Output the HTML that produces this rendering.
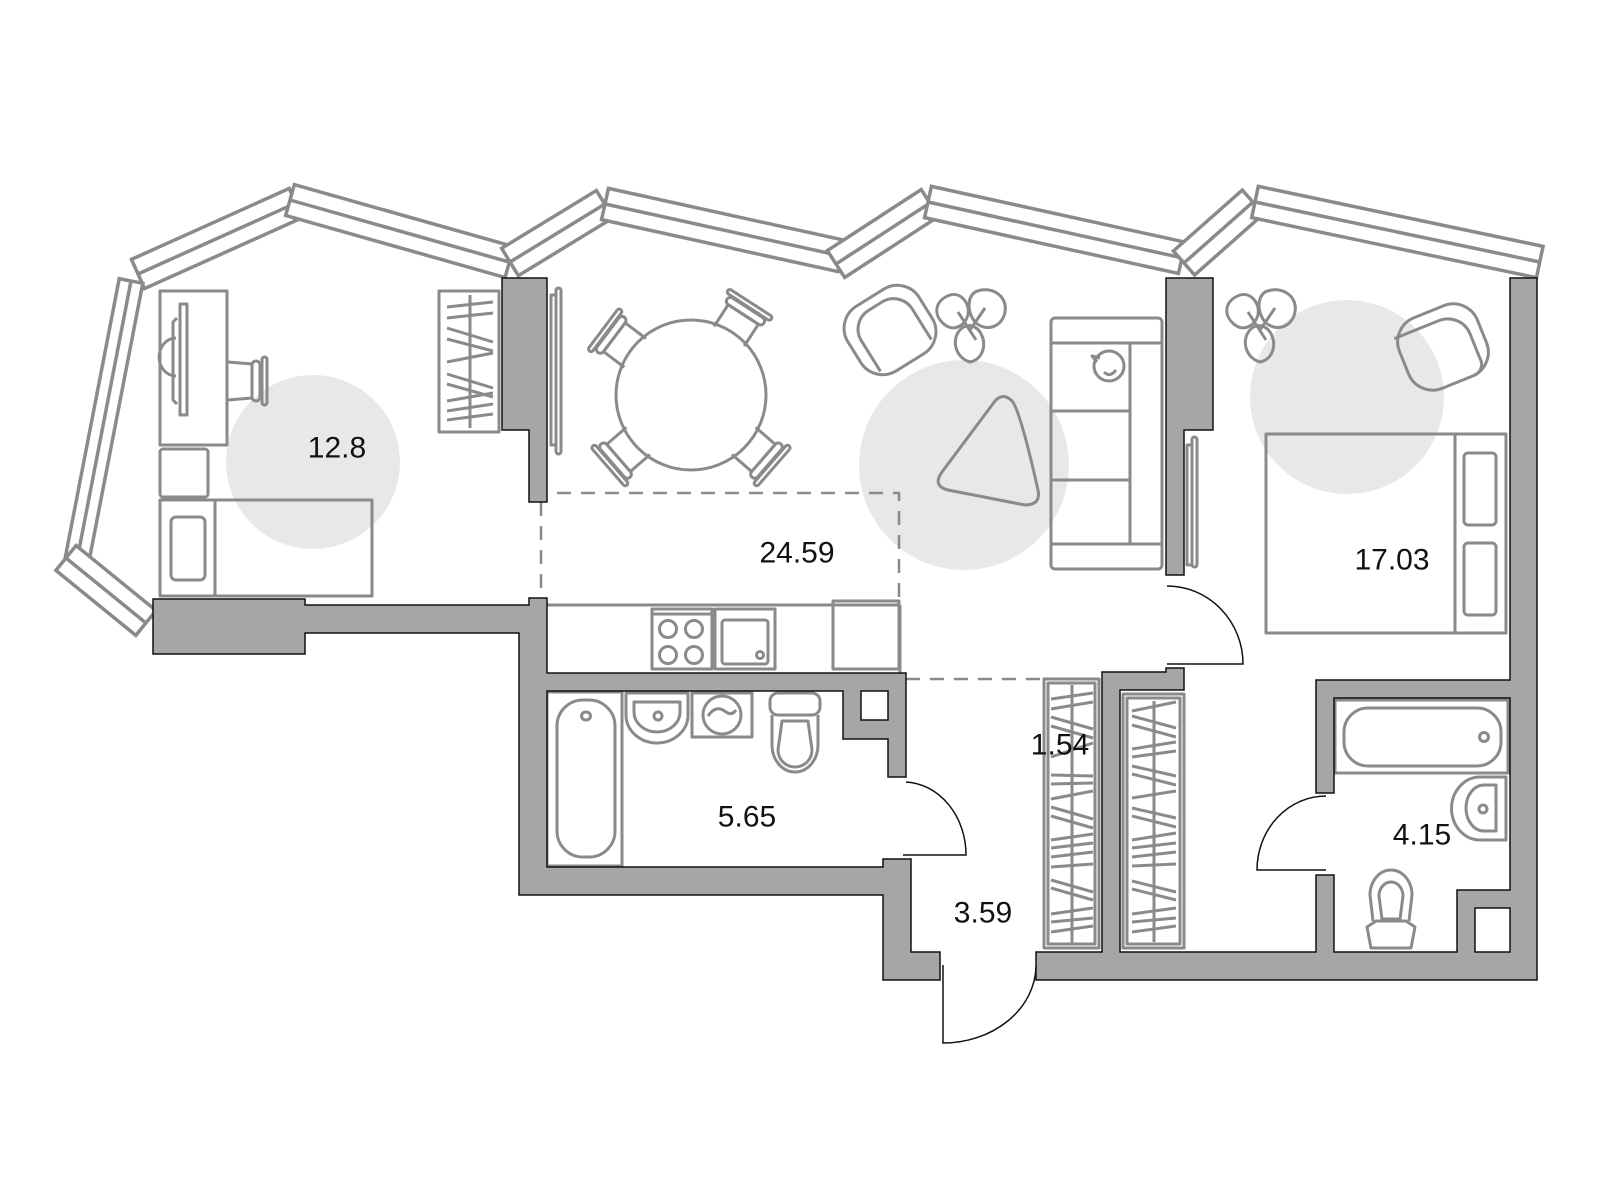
<!DOCTYPE html>
<html><head><meta charset="utf-8"><style>
html,body{margin:0;padding:0;background:#fff;}
svg{display:block;}
text{font-family:"Liberation Sans",sans-serif;font-size:30px;fill:#111;text-anchor:middle;dominant-baseline:central;}
</style></head><body>
<svg width="1600" height="1200" viewBox="0 0 1600 1200" xmlns="http://www.w3.org/2000/svg">
<!-- gray rugs -->
<g fill="#e8e8e8">
<circle cx="313" cy="462" r="87"/>
<circle cx="964" cy="465" r="105"/>
<circle cx="1347" cy="397" r="97"/>
</g>
<!-- windows -->
<g fill="#fff" stroke="#8a8a8a" stroke-width="3.5">
<g transform="translate(138,274) rotate(-24.2)"><rect x="0" y="-16" width="173" height="32"/><line x1="0" y1="0" x2="173" y2="0"/></g>
<g transform="translate(290,200) rotate(15.8)"><rect x="0" y="-16" width="228" height="32"/><line x1="0" y1="0" x2="228" y2="0"/></g>
<g transform="translate(131,281) rotate(100.95)"><rect x="0" y="-12" width="284" height="24"/><line x1="0" y1="0" x2="284" y2="0"/></g>
<g transform="translate(66,558) rotate(39.1)"><rect x="0" y="-16" width="103" height="32"/><line x1="0" y1="0" x2="103" y2="0"/></g>
<g transform="translate(510,262) rotate(-31.4)"><rect x="0" y="-16" width="111" height="32"/><line x1="0" y1="0" x2="111" y2="0"/></g>
<g transform="translate(605,204) rotate(12.4)"><rect x="0" y="-16" width="242" height="32"/><line x1="0" y1="0" x2="242" y2="0"/></g>
<g transform="translate(836,264) rotate(-33)"><rect x="0" y="-16" width="112" height="32"/><line x1="0" y1="0" x2="112" y2="0"/></g>
<g transform="translate(928,202) rotate(12.4)"><rect x="0" y="-16" width="260" height="32"/><line x1="0" y1="0" x2="260" y2="0"/></g>
<g transform="translate(1184,263) rotate(-41.5)"><rect x="0" y="-16" width="92" height="32"/><line x1="0" y1="0" x2="92" y2="0"/></g>
<g transform="translate(1255,202) rotate(11.9)"><rect x="0" y="-16" width="291" height="32"/><line x1="0" y1="0" x2="291" y2="0"/></g>
</g>
<!-- dashed zone lines -->
<g stroke="#8a8a8a" stroke-width="2.5" fill="none" stroke-dasharray="14,10">
<path d="M557,493 L899,493 L899,600"/>
<path d="M541,502 L541,598"/>
<path d="M906,679 L1040,679"/>
</g>
<!-- furniture -->
<g fill="none" stroke="#8a8a8a" stroke-width="3" stroke-linejoin="round">
<!-- left bedroom -->
<rect x="160" y="291" width="67" height="154"/>
<rect x="180" y="304" width="7" height="111"/>
<path d="M177,318 L173,322 L173,400 L177,404"/>
<path d="M176,215 " />
<path d="M176,338 A16,18 0 0 0 176,376"/>
<path d="M228,362 L252,364 L252,398 L228,400"/>
<rect x="252" y="361" width="8" height="40" rx="4"/>
<rect x="262" y="357" width="5" height="48" rx="2.5"/>
<rect x="160" y="449" width="48" height="48" rx="3"/>
<rect x="160" y="500" width="212" height="96"/>
<line x1="215" y1="500" x2="215" y2="596"/>
<rect x="171" y="517" width="34" height="63" rx="5"/>
<!-- left wardrobe -->
<rect x="439" y="291" width="60" height="141"/>
<line x1="470" y1="295" x2="470" y2="428"/>
<path d="M447,307 L493,302 M447,318 L493,313 M447,328 L493,342 M447,339 L493,351 M447,362 L493,353 M447,374 L493,388 M447,384 L493,397 M447,401 L493,393 M447,411 L493,404 M447,420 L493,414"/>
<!-- sliding doors -->
<rect x="551" y="295" width="5" height="150"/>
<rect x="556" y="288" width="5" height="166" rx="2.5"/>
<rect x="1187" y="445" width="5" height="120"/>
<rect x="1192" y="437" width="5" height="130" rx="2.5"/>
<!-- dining -->
<circle cx="691" cy="395" r="75"/>
<g transform="translate(691,395)">
<g transform="rotate(-143)"><path d="M70,-18 L96,-18 L96,18 L70,18"/><rect x="96" y="-22" width="8" height="44" rx="4"/><rect x="105" y="-26" width="5" height="52" rx="2.5"/></g>
<g transform="rotate(-57)"><path d="M70,-18 L96,-18 L96,18 L70,18"/><rect x="96" y="-22" width="8" height="44" rx="4"/><rect x="105" y="-26" width="5" height="52" rx="2.5"/></g>
<g transform="rotate(139)"><path d="M70,-18 L96,-18 L96,18 L70,18"/><rect x="96" y="-22" width="8" height="44" rx="4"/><rect x="105" y="-26" width="5" height="52" rx="2.5"/></g>
<g transform="rotate(41)"><path d="M70,-18 L96,-18 L96,18 L70,18"/><rect x="96" y="-22" width="8" height="44" rx="4"/><rect x="105" y="-26" width="5" height="52" rx="2.5"/></g>
</g>
<!-- armchairs -->
<g transform="translate(890,330) rotate(-32)"><rect x="-42" y="-38" width="84" height="76" rx="26"/><path d="M-30,30 L-30,-6 A22,22 0 0 1 -8,-28 L8,-28 A22,22 0 0 1 30,-6 L30,30"/></g>
<g transform="translate(1443,347) rotate(-22)"><rect x="-42" y="-38" width="84" height="76" rx="26"/><path d="M-42,-26 L6,-26 A24,24 0 0 1 30,-2 L30,24 A12,12 0 0 1 18,38"/></g>
<!-- plants -->
<g transform="translate(970,320)"><path d="M-20,-25 C-35,-20 -38,-5 -25,5 C-15,12 -5,5 -2,-5 C0,-18 -10,-28 -20,-25Z"/><path d="M5,-28 C20,-35 38,-25 35,-8 C32,8 15,12 5,2 C-3,-8 -3,-22 5,-28Z"/><path d="M-8,8 C-20,18 -15,38 0,42 C12,40 18,25 10,12 C5,5 -2,4 -8,8Z"/><line x1="-12" y1="-8" x2="6" y2="20"/><line x1="15" y1="-12" x2="0" y2="10"/></g>
<g transform="translate(1260,320)"><path d="M-20,-25 C-35,-20 -38,-5 -25,5 C-15,12 -5,5 -2,-5 C0,-18 -10,-28 -20,-25Z"/><path d="M5,-28 C20,-35 38,-25 35,-8 C32,8 15,12 5,2 C-3,-8 -3,-22 5,-28Z"/><path d="M-8,8 C-20,18 -15,38 0,42 C12,40 18,25 10,12 C5,5 -2,4 -8,8Z"/><line x1="-12" y1="-8" x2="6" y2="20"/><line x1="15" y1="-12" x2="0" y2="10"/></g>
<!-- coffee table -->
<path d="M995,401 Q1003,392 1012,401 Q1020,410 1038,490 Q1041,505 1025,505 L948,490 Q932,486 942,472 Z"/>
<!-- sofa -->
<rect x="1051" y="318" width="111" height="251" rx="4"/>
<line x1="1051" y1="343" x2="1162" y2="343"/>
<line x1="1051" y1="544" x2="1162" y2="544"/>
<line x1="1130" y1="343" x2="1130" y2="544"/>
<line x1="1051" y1="411" x2="1130" y2="411"/>
<line x1="1051" y1="480" x2="1130" y2="480"/>
<circle cx="1109" cy="366" r="15"/>
<path d="M1097,362 L1092,356 L1100,358 M1104,372 Q1110,378 1116,370"/>
<!-- bedroom bed -->
<rect x="1266" y="434" width="240" height="199"/>
<line x1="1455" y1="434" x2="1455" y2="633"/>
<rect x="1464" y="453" width="32" height="72" rx="4"/>
<rect x="1464" y="543" width="32" height="72" rx="4"/>
<!-- kitchen -->
<line x1="547" y1="605" x2="900" y2="605"/>
<line x1="900" y1="605" x2="900" y2="673"/>
<rect x="652" y="609" width="60" height="60"/>
<line x1="652" y1="614" x2="712" y2="614"/>
<circle cx="668" cy="629" r="8.5"/><circle cx="694" cy="629" r="8.5"/>
<circle cx="668" cy="655" r="8.5"/><circle cx="694" cy="655" r="8.5"/>
<rect x="715" y="609" width="60" height="60"/>
<rect x="722" y="620" width="46" height="44" rx="3"/>
<circle cx="760" cy="655" r="3.5"/>
<rect x="833" y="601" width="66" height="68"/>
<!-- left bath -->
<rect x="547" y="692" width="75" height="174"/>
<rect x="557" y="700" width="58" height="157" rx="26"/>
<ellipse cx="586" cy="716" rx="4.5" ry="4"/>
<path d="M626,693 L688,693 L688,715 A31,28 0 0 1 626,715 Z"/>
<path d="M634,702 L680,702 L680,712 A23,20 0 0 1 634,712 Z"/>
<circle cx="658" cy="716" r="4"/>
<rect x="692" y="693" width="60" height="44"/>
<circle cx="722" cy="715" r="19"/>
<path d="M708,716 Q716,704 726,712 Q732,716 736,710"/>
<rect x="770" y="693" width="50" height="22" rx="8"/>
<path d="M772,715 L772,745 A23,27 0 0 0 818,745 L818,715"/>
<path d="M782,721 L778,750 A17,17 0 0 0 812,750 L808,721 Z"/>
<!-- right bath -->
<rect x="1335" y="700" width="173" height="73"/>
<rect x="1344" y="708" width="157" height="58" rx="24"/>
<circle cx="1484" cy="737" r="4.5"/>
<path d="M1506,777 L1480,777 A28,31 0 0 0 1480,840 L1506,840 Z"/>
<path d="M1496,785 L1484,785 A18,23 0 0 0 1484,831 L1496,831 Z"/>
<circle cx="1483" cy="809" r="4"/>
<path d="M1371,948 L1367,927 L1376,921 L1406,921 L1415,927 L1411,948 Z"/>
<path d="M1373,921 L1370,895 A21,25 0 0 1 1412,895 L1409,921"/>
<path d="M1382,919 L1379,896 A12,14 0 0 1 1403,896 L1400,919 Z"/>
<!-- corridor wardrobes -->
<rect x="1044" y="679" width="55" height="269"/>
<rect x="1048" y="683" width="47" height="261"/>
<line x1="1072" y1="685" x2="1072" y2="943"/>
<rect x="1123" y="694" width="61" height="254"/>
<rect x="1127" y="698" width="53" height="246"/>
<line x1="1154" y1="701" x2="1154" y2="942"/>
<path d="M1051,699 L1093,693 M1051,709 L1093,702 M1051,717 L1093,729 M1051,726 L1093,738 M1051,757 L1093,743 M1051,775 L1093,776 M1051,784 L1093,783 M1051,799 L1093,791 M1051,807 L1093,819 M1051,816 L1093,828 M1051,840 L1093,834 M1051,848 L1093,843 M1051,857 L1093,852 M1051,867 L1093,864 M1051,880 L1093,892 M1051,888 L1093,900 M1051,914 L1093,908 M1051,922 L1093,918 M1051,932 L1093,926"/>
<path d="M1132,711 L1176,702 M1132,716 L1176,728 M1132,725 L1176,737 M1132,749 L1176,742 M1132,757 L1176,751 M1132,766 L1176,776 M1132,774 L1176,785 M1132,798 L1176,791 M1132,808 L1176,818 M1132,816 L1176,827 M1132,840 L1176,833 M1132,848 L1176,843 M1132,857 L1176,852 M1132,866 L1176,864 M1132,881 L1176,892 M1132,889 L1176,900 M1132,914 L1176,908 M1132,922 L1176,918 M1132,932 L1176,926"/>
</g>
<!-- walls -->
<g fill="#a6a6a6" stroke="#111" stroke-width="1.5" stroke-linejoin="miter">
<path d="M153,599 L305,599 L305,605 L529,605 L529,598 L547,598 L547,673 L906,673 L906,777 L888,777 L888,739 L843,739 L843,691 L547,691 L547,867 L883,867 L883,859 L911,859 L911,952 L940,952 L940,980 L883,980 L883,895 L519,895 L519,633 L305,633 L305,654 L153,654 Z"/>
<path d="M502,278 L547,278 L547,502 L529,502 L529,430 L502,430 Z"/>
<path d="M1166,278 L1213,278 L1213,430 L1184,430 L1184,575 L1166,575 Z"/>
<path d="M1510,278 L1537,278 L1537,980 L1036,980 L1036,952 L1102,952 L1102,672 L1166,672 L1166,668 L1184,668 L1184,690 L1120,690 L1120,952 L1316,952 L1316,875 L1334,875 L1334,952 L1457,952 L1457,890 L1510,890 L1510,698 L1334,698 L1334,793 L1316,793 L1316,680 L1510,680 Z"/>
</g>
<g fill="#fff" stroke="#111" stroke-width="1.5">
<rect x="861" y="691" width="27" height="29"/>
<rect x="1475" y="908" width="35" height="44"/>
</g>
<!-- doors -->
<g fill="none" stroke="#111" stroke-width="1.5">
<path d="M943,965 L943,1043 A93,78 0 0 0 1036,967"/>
<path d="M906,782 A63,73 0 0 1 966,855 L903,855"/>
<path d="M1167,586 A76,78 0 0 1 1243,664 L1167,664"/>
<path d="M1326,796 A69,74 0 0 0 1257,870 L1326,870"/>
</g>
<!-- labels -->
<text x="337" y="448">12.8</text>
<text x="797" y="553">24.59</text>
<text x="1392" y="560">17.03</text>
<text x="1060" y="745">1.54</text>
<text x="747" y="817">5.65</text>
<text x="1422" y="835">4.15</text>
<text x="983" y="913">3.59</text>
</svg>
</body></html>
